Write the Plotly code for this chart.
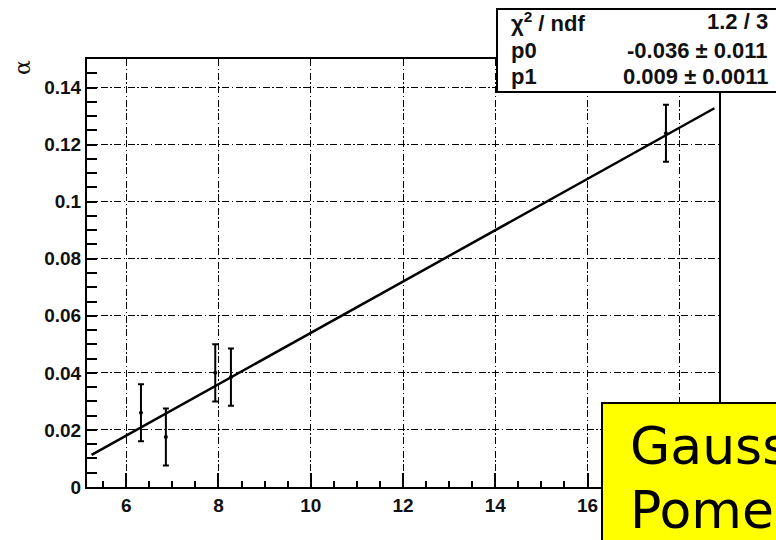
import plotly.graph_objects as go

# Measured alpha values vs x, with symmetric errors
x_vals = [6.32, 6.86, 7.93, 8.27, 17.70]
alpha_vals = [0.026, 0.0175, 0.040, 0.0385, 0.124]
alpha_errs = [0.010, 0.010, 0.010, 0.010, 0.010]

# Linear fit result: alpha = p0 + p1 * x
p0 = -0.036
p1 = 0.009
fit_range = [5.25, 18.75]
fit_labels = [("χ<sup>2</sup> / ndf", "1.2 / 3"),
              ("p0", "-0.036 ± 0.011"),
              ("p1", "0.009 ± 0.0011")]

x_ticks = [6, 8, 10, 12, 14, 16, 18]
# the 18 label sits under the label box, so it is left blank
x_tick_text = ["6", "8", "10", "12", "14", "16", ""]
y_ticks = [0, 0.02, 0.04, 0.06, 0.08, 0.1, 0.12, 0.14]
y_tick_text = ["0", "0.02", "0.04", "0.06", "0.08", "0.1", "0.12", "0.14"]

W, H = 776, 540
L, R, T, B = 87, 57, 59, 53
PW, PH = W - L - R, H - T - B


def px_x(p):
    return (p - L) / PW


def px_y(p):
    return (H - B - p) / PH


fig = go.Figure()

fig.add_trace(go.Scatter(
    x=fit_range, y=[p0 + p1 * v for v in fit_range],
    mode="lines", line=dict(color="black", width=2.5),
    hoverinfo="skip", showlegend=False))

fig.add_trace(go.Scatter(
    x=x_vals, y=alpha_vals, mode="markers",
    marker=dict(color="black", size=4),
    error_y=dict(type="data", array=alpha_errs, visible=True,
                 color="black", thickness=2, width=3),
    showlegend=False))

grid_dash = "7px,2.5px,1.5px,2.5px"
font_tick = dict(family="Liberation Sans", size=19, color="#111", weight="bold")
fig.update_xaxes(
    range=[5.15, 18.85], tickvals=x_ticks, ticktext=x_tick_text,
    ticks="inside", ticklen=14, tickwidth=1.5, tickcolor="black",
    showline=True, linewidth=2, linecolor="black", mirror=True,
    showgrid=True, gridcolor="black", gridwidth=1, griddash=grid_dash,
    zeroline=False, tickfont=font_tick,
    minor=dict(dtick=0.5, tick0=0, ticks="inside", ticklen=6,
               tickwidth=1.5, tickcolor="black", showgrid=False))
fig.update_yaxes(
    range=[0, 0.15], tickvals=y_ticks, ticktext=y_tick_text,
    ticks="inside", ticklen=10, tickwidth=1.5, tickcolor="black",
    showline=True, linewidth=2, linecolor="black", mirror=True,
    showgrid=True, gridcolor="black", gridwidth=1, griddash=grid_dash,
    zeroline=False, tickfont=font_tick,
    minor=dict(dtick=0.005, tick0=0, ticks="inside", ticklen=10,
               tickwidth=1.5, tickcolor="black", showgrid=False))

annotations = []
shapes = []

# y-axis title
annotations.append(dict(
    x=px_x(22), y=px_y(68), xref="paper", yref="paper",
    text="α", textangle=-90, showarrow=False,
    font=dict(family="DejaVu Serif", size=22, color="#111"),
    xanchor="center", yanchor="middle"))

# fit statistics box
shapes.append(dict(type="rect", xref="paper", yref="paper",
                   x0=px_x(497), x1=px_x(800), y0=px_y(92), y1=px_y(9),
                   fillcolor="white", line=dict(color="black", width=2)))
row_y = [22, 50, 77]
stat_font = dict(family="Liberation Sans", size=22, color="#111", weight="bold")
for (name, val), ry in zip(fit_labels, row_y):
    annotations.append(dict(x=px_x(509), y=px_y(ry), xref="paper", yref="paper",
                            text=name, showarrow=False, xanchor="left",
                            yanchor="middle", font=stat_font))
    annotations.append(dict(x=px_x(770), y=px_y(ry), xref="paper", yref="paper",
                            text=val, showarrow=False, xanchor="right",
                            yanchor="middle", font=stat_font))

# label box
shapes.append(dict(type="rect", xref="paper", yref="paper",
                   x0=px_x(602), x1=px_x(800), y0=px_y(560), y1=px_y(403),
                   fillcolor="#ffff00", line=dict(color="black", width=2)))
box_font = dict(family="DejaVu Sans", size=52, color="black")
for word, cy in [("Gaussian", 446), ("Pomeron", 510)]:
    annotations.append(dict(x=px_x(628), y=px_y(cy), xref="paper", yref="paper",
                            text=word, showarrow=False, xanchor="left",
                            yanchor="middle", font=box_font))

fig.update_layout(
    width=W, height=H,
    margin=dict(l=L, r=R, t=T, b=B),
    paper_bgcolor="white", plot_bgcolor="white",
    annotations=annotations, shapes=shapes,
    showlegend=False)

fig.write_html("out.html")
